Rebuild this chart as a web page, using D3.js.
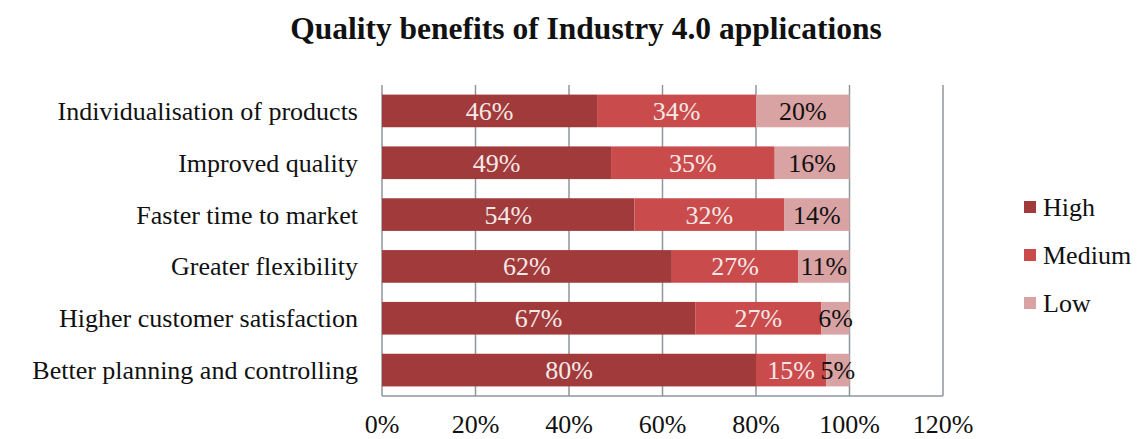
<!DOCTYPE html>
<html><head><meta charset="utf-8">
<script src="https://cdn.jsdelivr.net/npm/d3@7"></script>
<style>body{margin:0;background:#fff}svg{display:block}</style>
</head><body>
<svg id="c" width="1143" height="439"></svg>
<script>
const categories = ["Individualisation of products","Improved quality","Faster time to market","Greater flexibility","Higher customer satisfaction","Better planning and controlling"];
const seriesNames = ["High","Medium","Low"];
const high = [46,49,54,62,67,80];
const medium = [34,35,32,27,27,15];
const low = [20,16,14,11,6,5];
const tickValues = [0,20,40,60,80,100,120];
const colors = ["#A03A3B","#C94B4C","#D9A2A3"];
const labelColors = ["#F6E8E6","#F6E8E6","#111"];

const svg = d3.select("#c");
const font = "'Liberation Serif','Times New Roman',serif";
const x = d3.scaleLinear().domain([0,120]).range([382,943]);
const y = d3.scaleBand().domain(categories).range([85,396]).paddingInner(0.37).paddingOuter(0.185);

svg.append("text").attr("x",586).attr("y",39).attr("text-anchor","middle")
  .attr("font-family",font).attr("font-weight","bold").attr("font-size",31.5).attr("fill","#111")
  .text("Quality benefits of Industry 4.0 applications");

// gridlines
svg.append("g").selectAll("line").data(tickValues.slice(1)).join("line")
  .attr("x1",d=>x(d)).attr("x2",d=>x(d)).attr("y1",85).attr("y2",396)
  .attr("stroke","#8E969C").attr("stroke-width",1.5);
// axes lines
svg.append("line").attr("x1",x(0)).attr("x2",x(0)).attr("y1",85).attr("y2",396).attr("stroke","#8E969C").attr("stroke-width",1.5);
svg.append("line").attr("x1",x(0)).attr("x2",x(120)).attr("y1",396).attr("y2",396).attr("stroke","#8E969C").attr("stroke-width",1.5);

const rows = categories.map((c,i)=>({cat:c, High:high[i], Medium:medium[i], Low:low[i]}));
const stack = d3.stack().keys(seriesNames)(rows);

stack.forEach((s,si)=>{
  const g = svg.append("g");
  g.selectAll("rect").data(s).join("rect")
    .attr("x",d=>x(d[0])).attr("width",d=>x(d[1])-x(d[0]))
    .attr("y",d=>y(d.data.cat)).attr("height",y.bandwidth())
    .attr("fill",colors[si]);
  g.selectAll("text").data(s).join("text")
    .attr("x",d=>x((d[0]+d[1])/2)).attr("y",d=>y(d.data.cat)+y.bandwidth()/2+9)
    .attr("text-anchor","middle").attr("font-family",font).attr("font-size",26)
    .attr("fill",labelColors[si]).text(d=>(d[1]-d[0])+"%");
});

// category labels
svg.append("g").selectAll("text").data(categories).join("text")
  .attr("x",358).attr("y",d=>y(d)+y.bandwidth()/2+9).attr("text-anchor","end")
  .attr("font-family",font).attr("font-size",26).attr("fill","#111").text(d=>d);

// x tick labels
svg.append("g").selectAll("text").data(tickValues).join("text")
  .attr("x",d=>x(d)).attr("y",433).attr("text-anchor","middle")
  .attr("font-family",font).attr("font-size",26).attr("fill","#111").text(d=>d+"%");

// legend
const lg = svg.append("g").selectAll("g").data(seriesNames).join("g")
  .attr("transform",(d,i)=>`translate(1024,${216+i*48})`);
lg.append("rect").attr("x",0).attr("y",-15).attr("width",12).attr("height",12).attr("fill",(d,i)=>colors[i]);
lg.append("text").attr("x",19).attr("y",0).attr("font-family",font).attr("font-size",26).attr("fill","#111").text(d=>d);
</script>
</body></html>
